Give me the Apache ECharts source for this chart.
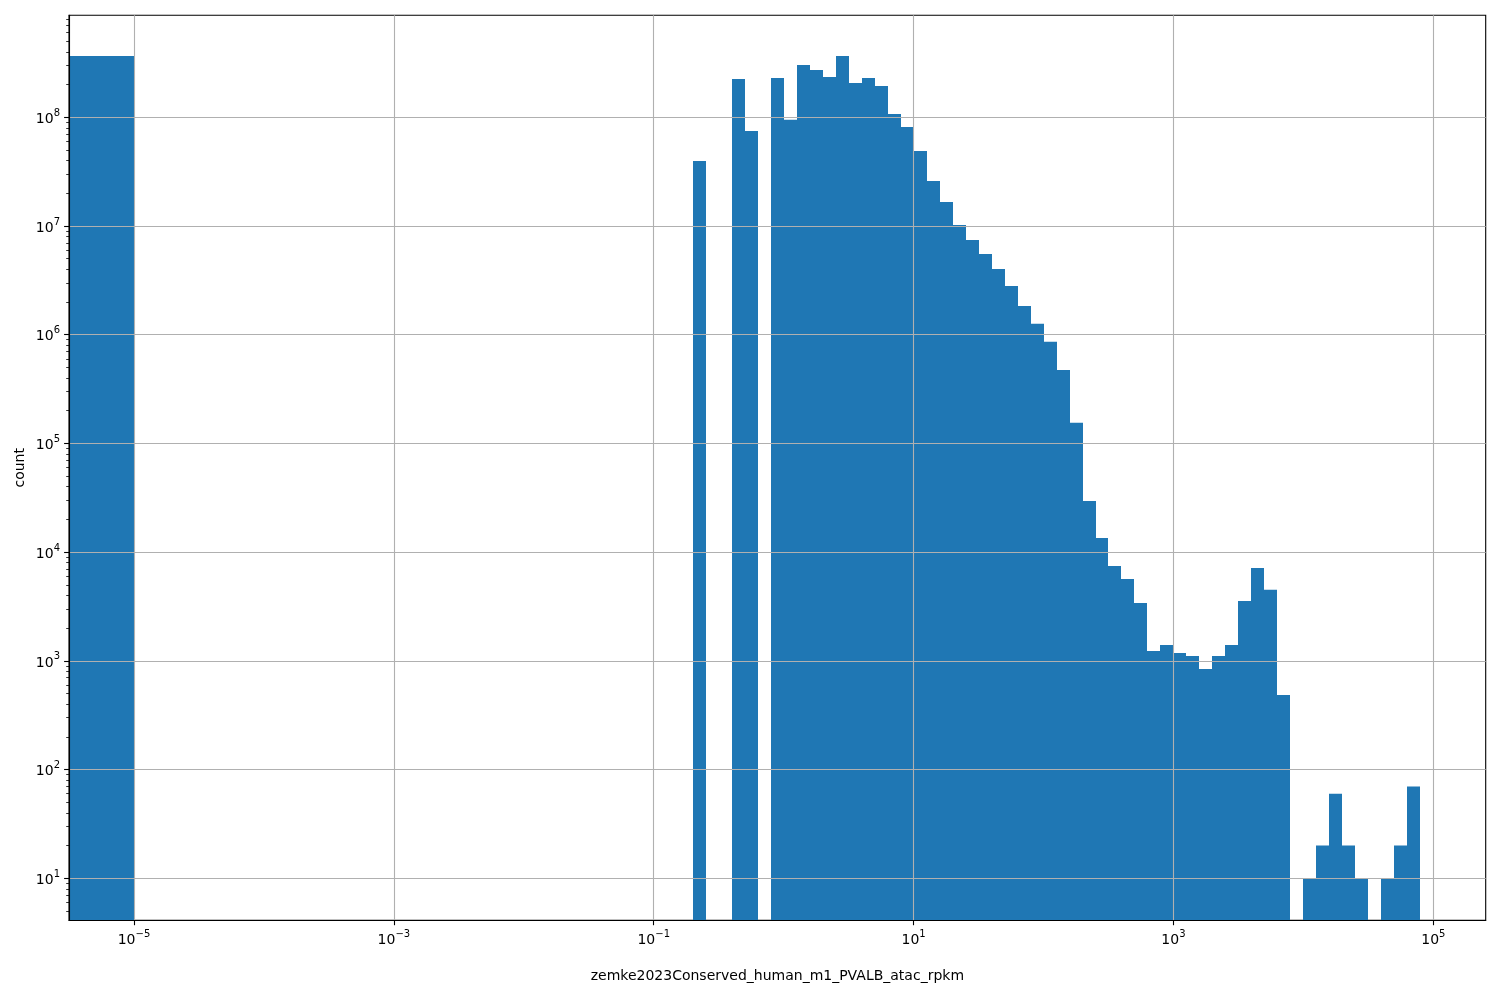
<!DOCTYPE html>
<html><head><meta charset="utf-8">
<script src="https://cdn.jsdelivr.net/npm/echarts@6/dist/echarts.min.js"></script>
<style>html,body{margin:0;padding:0;background:#fff}#chart{width:1500px;height:1000px}</style>
</head><body><div id="chart"></div>
<script>
// ---- data ----
const xAxisTitle = 'zemke2023Conserved_human_m1_PVALB_atac_rpkm';
const yAxisTitle = 'count';
// histogram bin for zero values: [0, 1e-5]
const zeroBinEdges = [0, 1e-5];
const zeroBinCount = 3.66e8;
// log-spaced bins: left edge = 10^(binLogStart + k*binLogWidth), k = 0..98
const binLogStart = -5;
const binLogWidth = 0.1;
const binCounts = [
  0,0,0,0,0,0,0,0,0,0,
  0,0,0,0,0,0,0,0,0,0,
  0,0,0,0,0,0,0,0,0,0,
  0,0,0,0,0,0,0,0,0,0,
  0,0,0,
  3.96e7, 0, 0, 2.25e8, 7.48e7, 0, 2.30e8,          // k=43..49
  9.5e7, 3.03e8, 2.72e8, 2.35e8, 3.66e8, 2.07e8, 2.30e8, 1.94e8, 1.07e8, 8.15e7, // 50..59
  4.9e7, 2.6e7, 1.66e7, 1.02e7, 7.45e6, 5.53e6, 4.03e6, 2.81e6, 1.84e6, 1.26e6,  // 60..69
  8.6e5, 4.75e5, 1.55e5, 2.96e4, 1.35e4, 7460, 5660, 3410, 1230, 1400,           // 70..79
  1180, 1110, 840, 1110, 1400, 3560, 7160, 4500, 486, 0,                          // 80..89
  10, 20, 60, 20, 10, 0, 10, 20, 70                                               // 90..98
];
const xTickValues = [1e-5, 1e-3, 1e-1, 1e1, 1e3, 1e5];
const xTickExponents = ['−5', '−3', '−1', '1', '3', '5'];
const yTickValues = [1e1, 1e2, 1e3, 1e4, 1e5, 1e6, 1e7, 1e8];
const yTickExponents = ['1', '2', '3', '4', '5', '6', '7', '8'];
const xAxisMin = Math.pow(10, -5.5), xAxisMax = Math.pow(10, 5.403);
const yAxisMin = Math.pow(10, 0.614), yAxisMax = Math.pow(10, 8.938);

// ---- build ----
const bars = [[zeroBinEdges[0], zeroBinEdges[1], zeroBinCount]];
binCounts.forEach((c, k) => {
  if (c > 0) {
    bars.push([Math.pow(10, binLogStart + k * binLogWidth),
               Math.pow(10, binLogStart + (k + 1) * binLogWidth), c]);
  }
});
const yMinor = [];
for (let n = 0; n <= 8; n++) for (let m = 2; m <= 9; m++) {
  const v = m * Math.pow(10, n);
  if (v > yAxisMin && v < yAxisMax) yMinor.push(v);
}

const FONT = 'DejaVu Sans';
const rich = {
  b: { fontFamily: FONT, fontSize: 14, color: '#000', lineHeight: 18, verticalAlign: 'bottom' },
  s: { fontFamily: FONT, fontSize: 10, color: '#000', lineHeight: 10, verticalAlign: 'bottom', padding: [0, 0, 8, 0] }
};
function fmt(values, exps) {
  return function (v) {
    let best = 0, bd = Infinity;
    values.forEach((t, i) => { const d = Math.abs(Math.log10(t) - Math.log10(v)); if (d < bd) { bd = d; best = i; } });
    return '{b|10}{s|' + exps[best] + '}';
  };
}

const chart = echarts.init(document.getElementById('chart'), null, { renderer: 'canvas' });
chart.setOption({
  animation: false,
  backgroundColor: '#fff',
  grid: { left: 69, right: 14.3, top: 15.3, bottom: 79.7, containLabel: false,
          show: true, borderColor: '#000', borderWidth: 1.1, backgroundColor: 'transparent' },
  xAxis: {
    type: 'log', logBase: 10, min: xAxisMin, max: xAxisMax, z: 5,
    name: xAxisTitle, nameLocation: 'middle', nameGap: 49, nameMoveOverlap: false,
    nameTextStyle: { fontFamily: FONT, fontSize: 14, color: '#000' },
    axisLine: { show: true, onZero: false, lineStyle: { color: '#000', width: 1.1 } },
    axisTick: { show: true, length: 4.9, lineStyle: { color: '#000', width: 1.1 }, customValues: xTickValues },
    axisLabel: { margin: 9, customValues: xTickValues, formatter: fmt(xTickValues, xTickExponents), rich: rich },
    splitLine: { show: true, lineStyle: { color: '#b0b0b0', width: 1.1 } },
    minorTick: { show: false }, minorSplitLine: { show: false }
  },
  yAxis: [{
    type: 'log', logBase: 10, min: yAxisMin, max: yAxisMax, z: 5,
    name: yAxisTitle, nameLocation: 'middle', nameGap: 42, nameRotate: 90, nameMoveOverlap: false,
    nameTextStyle: { fontFamily: FONT, fontSize: 14, color: '#000' },
    axisLine: { show: true, lineStyle: { color: '#000', width: 1.1 } },
    axisTick: { show: true, length: 4.9, lineStyle: { color: '#000', width: 1.1 }, customValues: yTickValues },
    axisLabel: { margin: 9, customValues: yTickValues, formatter: fmt(yTickValues, yTickExponents), rich: rich },
    splitLine: { show: true, lineStyle: { color: '#b0b0b0', width: 1.1 } }
  }, {
    type: 'log', logBase: 10, min: yAxisMin, max: yAxisMax, position: 'left', z: 5,
    axisLine: { show: false },
    axisTick: { show: true, length: 2.8, lineStyle: { color: '#000', width: 0.8 }, customValues: yMinor },
    axisLabel: { show: false, customValues: yMinor },
    splitLine: { show: false }
  }],
  series: [{
    type: 'custom',
    clip: true,
    z: 1,
    encode: { x: 1, y: 2 },
    data: bars,
    renderItem: function (params, api) {
      const cs = params.coordSys;
      const x0v = api.value(0), x1v = api.value(1), c = api.value(2);
      const p1 = api.coord([x1v, c]);
      let left = x0v > 0 ? api.coord([x0v, c])[0] : cs.x;
      if (left < cs.x) left = cs.x;
      left = Math.round(left);
      const right = Math.round(p1[0]);
      const bottom = cs.y + cs.height;
      return {
        type: 'rect',
        shape: { x: left, y: p1[1], width: right - left, height: bottom - p1[1] },
        style: { fill: '#1f77b4' }
      };
    }
  }]
});
</script></body></html>
